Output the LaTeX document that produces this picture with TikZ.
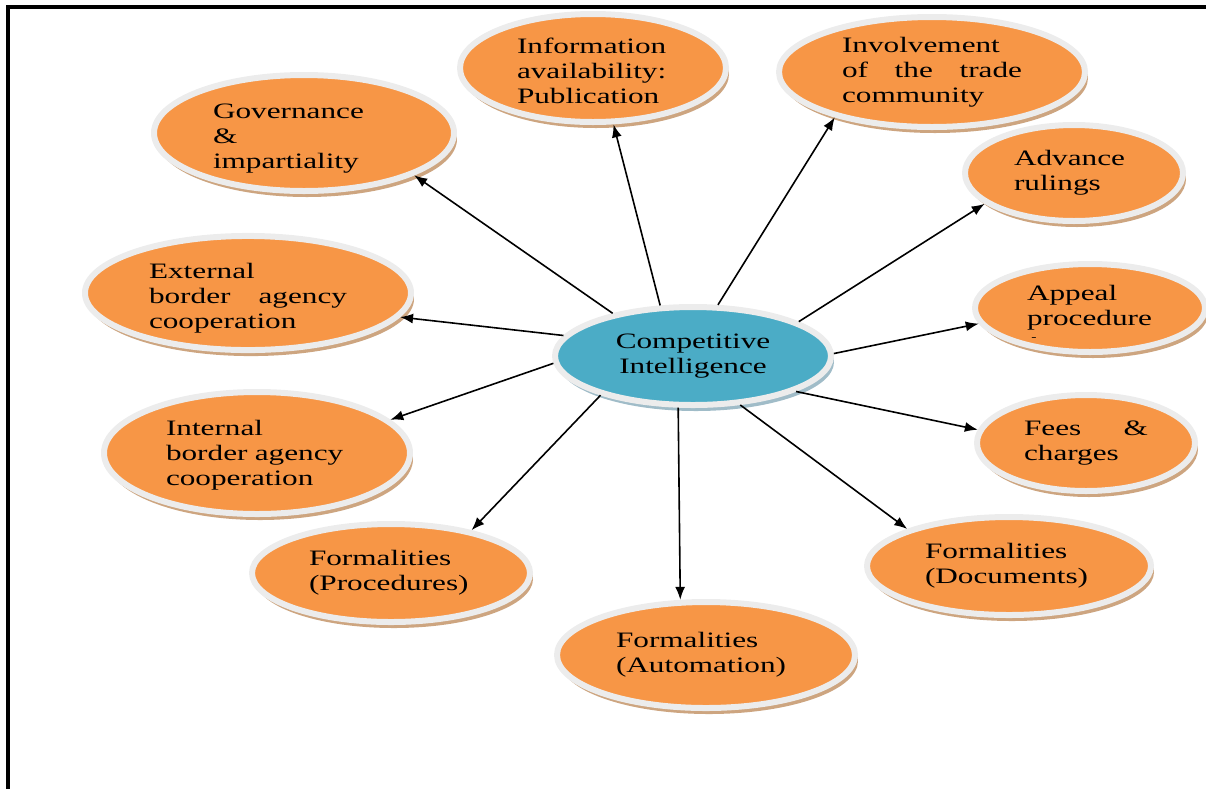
\documentclass[tikz,border=0pt]{standalone}
\usepackage{fontspec}
\setmainfont{Liberation Serif}[FakeStretch=1.42]
\usetikzlibrary{shapes.geometric, arrows.meta, shadows}
\definecolor{bubbleorange}{RGB}{247,150,70}
\definecolor{hubteal}{RGB}{75,172,198}
\definecolor{rimgray}{RGB}{236,236,236}
\definecolor{tanshadow}{RGB}{205,165,128}
\definecolor{blueshadow}{RGB}{160,188,200}
\newcommand{\topgap}[1]{\rule{0pt}{#1}}
\tikzset{
  bubblebase/.style = {ellipse, draw=rimgray, line width=6pt, inner sep=0pt},
  bubble/.style = {bubblebase, fill=bubbleorange, align=left,
    drop shadow={shadow xshift=3pt, shadow yshift=-6pt, fill=tanshadow, opacity=1}},
  hub/.style = {bubblebase, fill=hubteal, align=center,
    drop shadow={shadow xshift=3pt, shadow yshift=-6pt, fill=blueshadow, opacity=1}},
  arrow/.style = {line width=1.6pt, -{Latex[length=13pt,width=10pt]}},
}
\begin{document}
\begin{tikzpicture}[x=1pt, y=-1pt, font=\fontsize{22}{25}\selectfont]
  \useasboundingbox (0,0) rectangle (1206,788);

  % Frame
  \draw[line width=4pt] (8,790) -- (8,7) -- (1208,7);

  % Centre
  \node[hub, minimum width=276pt, minimum height=98pt] (ci) at (693,356) {Competitive\\Intelligence};

  % Outer bubbles
  \node[bubble, minimum width=300pt, minimum height=116pt, text width=182pt] (gov) at (304,133) {\topgap{26pt}Governance\\\&\\impartiality};
  \node[bubble, minimum width=266pt, minimum height=108pt, text width=152pt] (info) at (593,68) {\topgap{22pt}Information\\availability:\\Publication};
  \node[bubble, minimum width=306pt, minimum height=110pt, text width=180pt] (inv) at (932,72) {Involvement\\of\hfill the\hfill trade\\community};
  \node[bubble, minimum width=218pt, minimum height=96pt, text width=120pt] (adv) at (1074,173) {Advance\\rulings};
  \node[bubble, minimum width=326pt, minimum height=112pt, text width=198pt] (ext) at (248,293) {\topgap{26pt}External\\border\hfill agency\\cooperation};
  \node[bubble, minimum width=230pt, minimum height=88pt, text width=126pt,
    label={[inner sep=0pt, xshift=-56pt, yshift=-31pt, font=\fontsize{11}{11}\selectfont]center:-}] (app) at (1090,308) {Appeal\\procedure};
  \node[bubble, minimum width=306pt, minimum height=122pt, text width=182pt] (int) at (257,453) {\topgap{20pt}Internal\\border agency\\cooperation};
  \node[bubble, minimum width=218pt, minimum height=96pt, text width=124pt] (fees) at (1086,443) {Fees\hfill\&\\charges};
  \node[bubble, minimum width=278pt, minimum height=98pt, text width=164pt] (proc) at (391,573) {Formalities\\(Procedures)};
  \node[bubble, minimum width=284pt, minimum height=98pt, text width=168pt] (doc) at (1009,566) {Formalities\\(Documents)};
  \node[bubble, minimum width=298pt, minimum height=106pt, text width=180pt] (auto) at (706,655) {Formalities\\(Automation)};

  % Arrows
  \draw[arrow] (ci.152) -- (gov.-21);
  \draw[arrow] (ci.123) -- (info.-70);
  \draw[arrow] (ci.64) -- (inv.205);
  \draw[arrow] (ci.18) -- (adv.199);
  \draw[arrow] (ci.171) -- (ext.-9);
  \draw[arrow] (ci.1) -- (app.188);
  \draw[arrow] (ci.183) -- (int.14);
  \draw[arrow] (ci.-19) -- (fees.173);
  \draw[arrow] (ci.203) -- (proc.28);
  \draw[arrow] (ci.-46) -- (doc.160);
  \draw[arrow] (ci.-106) -- (auto.115);

\end{tikzpicture}
\end{document}
